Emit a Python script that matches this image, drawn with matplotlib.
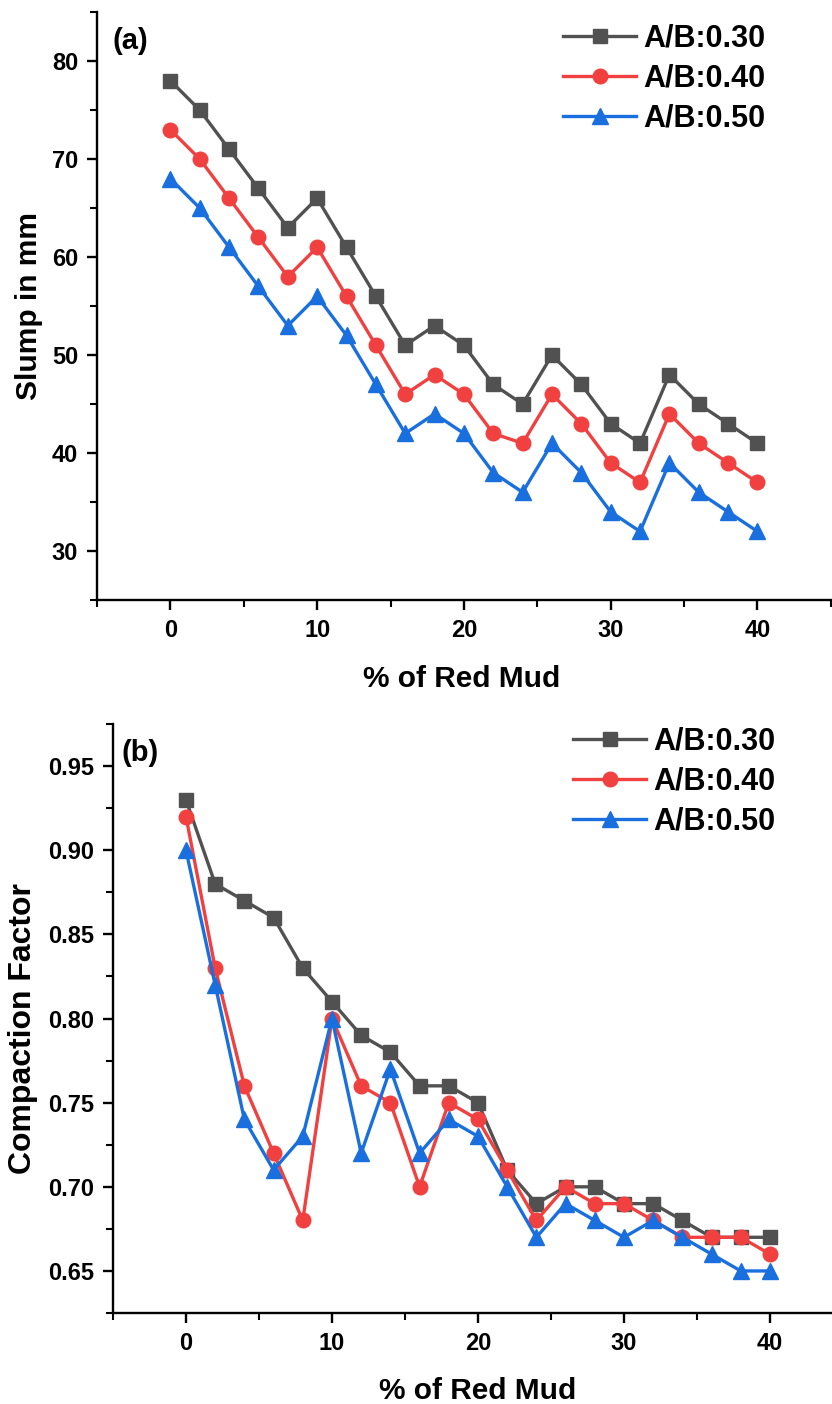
import matplotlib
matplotlib.use("Agg")
import matplotlib.pyplot as plt
from matplotlib.ticker import MultipleLocator, FormatStrFormatter

plt.rcParams['font.family'] = ['Liberation Sans', 'DejaVu Sans']
plt.rcParams['font.weight'] = 'bold'

red_mud = [0, 2, 4, 6, 8, 10, 12, 14, 16, 18, 20, 22, 24, 26, 28, 30, 32, 34, 36, 38, 40]
labels = ['A/B:0.30', 'A/B:0.40', 'A/B:0.50']

slump_030 = [78, 75, 71, 67, 63, 66, 61, 56, 51, 53, 51, 47, 45, 50, 47, 43, 41, 48, 45, 43, 41]
slump_040 = [73, 70, 66, 62, 58, 61, 56, 51, 46, 48, 46, 42, 41, 46, 43, 39, 37, 44, 41, 39, 37]
slump_050 = [68, 65, 61, 57, 53, 56, 52, 47, 42, 44, 42, 38, 36, 41, 38, 34, 32, 39, 36, 34, 32]

cf_030 = [0.93, 0.88, 0.87, 0.86, 0.83, 0.81, 0.79, 0.78, 0.76, 0.76, 0.75,
          0.71, 0.69, 0.70, 0.70, 0.69, 0.69, 0.68, 0.67, 0.67, 0.67]
cf_040 = [0.92, 0.83, 0.76, 0.72, 0.68, 0.80, 0.76, 0.75, 0.70, 0.75, 0.74,
          0.71, 0.68, 0.70, 0.69, 0.69, 0.68, 0.67, 0.67, 0.67, 0.66]
cf_050 = [0.90, 0.82, 0.74, 0.71, 0.73, 0.80, 0.72, 0.77, 0.72, 0.74, 0.73,
          0.70, 0.67, 0.69, 0.68, 0.67, 0.68, 0.67, 0.66, 0.65, 0.65]

colors = ['#515151', '#F14040', '#1A6FDF']
markers = ['s', 'o', '^']
msizes = [9.5, 10.5, 11]

fig = plt.figure(figsize=(8.32, 14.04), dpi=100)
ax_a = fig.add_axes([0.1166, 0.5726, 0.882, 0.4188])
ax_b = fig.add_axes([0.1358, 0.0648, 0.8774, 0.4195])


def style_axes(ax):
    for side in ('top', 'right'):
        ax.spines[side].set_visible(False)
    for side in ('left', 'bottom'):
        ax.spines[side].set_linewidth(1.7)
    ax.tick_params(which='major', direction='out', length=7.5, width=1.7,
                   labelsize=17, pad=6)
    ax.tick_params(which='minor', direction='out', length=5, width=1.5)
    ax.xaxis.set_major_locator(MultipleLocator(10))
    ax.xaxis.set_minor_locator(MultipleLocator(5))
    ax.set_xlim(-5, 45)


def draw_series(ax, series):
    for y, c, m, ms, lab in zip(series, colors, markers, msizes, labels):
        ax.plot(red_mud, y, color=c, marker=m, markersize=ms, linewidth=2.4,
                label=lab, clip_on=False)


def add_legend(ax, anchor):
    ax.legend(loc='upper left', bbox_to_anchor=anchor, frameon=False,
              fontsize=22, handlelength=2.4, handletextpad=0.23,
              labelspacing=0.32, borderpad=0, borderaxespad=0)


# (a) Slump
draw_series(ax_a, [slump_030, slump_040, slump_050])
style_axes(ax_a)
ax_a.set_ylim(25, 85)
ax_a.yaxis.set_major_locator(MultipleLocator(10))
ax_a.yaxis.set_minor_locator(MultipleLocator(5))
ax_a.set_yticks([30, 40, 50, 60, 70, 80])
ax_a.set_xlabel('% of Red Mud', fontsize=21.5, fontweight='bold')
ax_a.set_ylabel('Slump in mm', fontsize=21.5, fontweight='bold')
ax_a.xaxis.set_label_coords(0.4966, -0.110)
ax_a.yaxis.set_label_coords(-0.073, 0.5)
ax_a.text(0.021, 0.975, '(a)', transform=ax_a.transAxes, fontsize=21,
          fontweight='bold', va='top', ha='left')
add_legend(ax_a, (0.635, 0.98))

# (b) Compaction factor
draw_series(ax_b, [cf_030, cf_040, cf_050])
style_axes(ax_b)
ax_b.set_ylim(0.625, 0.975)
ax_b.yaxis.set_major_locator(MultipleLocator(0.05))
ax_b.yaxis.set_minor_locator(MultipleLocator(0.025))
ax_b.yaxis.set_major_formatter(FormatStrFormatter('%.2f'))
ax_b.set_xlabel('% of Red Mud', fontsize=21.5, fontweight='bold')
ax_b.set_ylabel('Compaction Factor', fontsize=23, fontweight='bold')
ax_b.xaxis.set_label_coords(0.5, -0.108)
ax_b.yaxis.set_label_coords(-0.103, 0.483)
ax_b.text(0.012, 0.975, '(b)', transform=ax_b.transAxes, fontsize=21,
          fontweight='bold', va='top', ha='left')
add_legend(ax_b, (0.63, 0.995))

for ax in (ax_a, ax_b):
    for lab in ax.get_xticklabels() + ax.get_yticklabels():
        lab.set_fontweight('bold')

fig.savefig('out.png', dpi=100)
